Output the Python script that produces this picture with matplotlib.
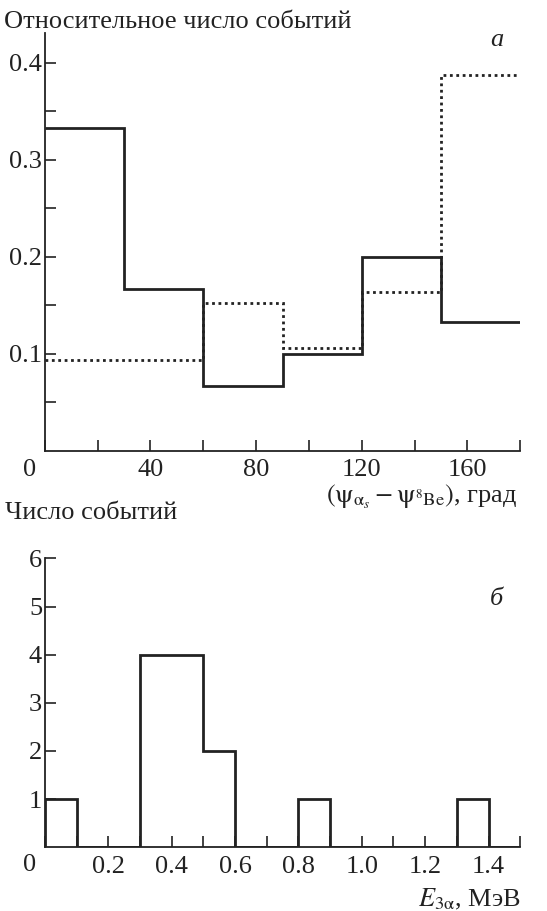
import matplotlib
matplotlib.use("Agg")
import matplotlib.pyplot as plt
import numpy as np

plt.rcParams['font.family'] = ['Liberation Serif', 'DejaVu Serif']
plt.rcParams['mathtext.fontset'] = 'stix'
plt.rcParams['font.size'] = 19

# Panel a: angle distribution (deg), relative number of events
angle_edges = [0, 30, 60, 90, 120, 150, 180]
rel_solid = [0.333, 0.167, 0.067, 0.100, 0.200, 0.133]
rel_dotted = [0.094, 0.094, 0.153, 0.106, 0.164, 0.388]

# Panel b: E_3alpha (MeV), number of events
energy_edges = [0.0, 0.1, 0.2, 0.3, 0.4, 0.5, 0.6, 0.7, 0.8, 0.9, 1.0, 1.1, 1.2, 1.3, 1.4, 1.5]
counts = [1, 0, 0, 4, 4, 2, 0, 0, 1, 0, 0, 0, 0, 1, 0]

col = "#222222"
fig = plt.figure(figsize=(5.47, 9.11), dpi=100)
ax1 = fig.add_axes([0.082, 0.505, 0.869, 0.459])
ax2 = fig.add_axes([0.082, 0.070, 0.869, 0.317])

for ax in (ax1, ax2):
    for s in ("top", "right"):
        ax.spines[s].set_visible(False)
    for s in ("left", "bottom"):
        ax.spines[s].set_linewidth(1.3)
        ax.spines[s].set_color(col)
    ax.tick_params(which="both", direction="in", length=8, width=1.2, color=col, labelcolor=col)
    ax.tick_params(axis="x", which="both", pad=6)
    ax.tick_params(axis="y", which="both", pad=2)

# top panel
ax1.stairs(rel_solid, angle_edges, baseline=None, color=col, lw=2)
ax1.stairs(rel_dotted, angle_edges, baseline=None, color=col, lw=2, linestyle=(0, (1, 1.3)))
ax1.set_xlim(0, 180)
ax1.set_ylim(0, 0.431)
ax1.set_xticks(np.arange(0, 181, 20))
ax1.set_xticklabels(["" if (v % 40 or v == 0) else str(v) for v in range(0, 181, 20)])
ax1.set_yticks([0.1, 0.2, 0.3, 0.4])
ax1.set_yticklabels(["0.1", "0.2", "0.3", "0.4"])
ax1.set_yticks([0.05, 0.15, 0.25, 0.35], minor=True)
ax1.text(-0.032, -0.045, "0", transform=ax1.transAxes, ha="center", va="center", color=col)
fig.text(0.008, 0.976, "Относительное число событий", ha="left", va="center", color=col)
fig.text(0.945, 0.454, r"$(\mathrm{\psi}_{\mathrm{\alpha}_s}-\mathrm{\psi}_{^8\mathrm{Be}})$, град",
         ha="right", va="center", color=col)
ax1.text(0.95, 0.983, "а", transform=ax1.transAxes, ha="center", va="center",
         style="italic", color=col)

# bottom panel
ax2.stairs(counts, energy_edges, baseline=0, color=col, lw=2)
ax2.set_xlim(0, 1.5)
ax2.set_ylim(0, 6)
ax2.set_xticks(np.arange(0, 1.51, 0.1))
labels = []
for i in range(16):
    labels.append("%.1f" % (i / 10) if (i % 2 == 0 and i > 0) else "")
ax2.set_xticklabels(labels)
ax2.set_yticks([1, 2, 3, 4, 5, 6])
ax2.text(-0.032, -0.062, "0", transform=ax2.transAxes, ha="center", va="center", color=col)
fig.text(0.009, 0.437, "Число событий", ha="left", va="center", color=col)
fig.text(0.952, 0.013, r"$E_{3\mathrm{\alpha}}$, МэВ", ha="right", va="center", color=col)
ax2.text(0.95, 0.86, "б", transform=ax2.transAxes, ha="center", va="center",
         style="italic", color=col)

fig.savefig("out.png", dpi=100)
